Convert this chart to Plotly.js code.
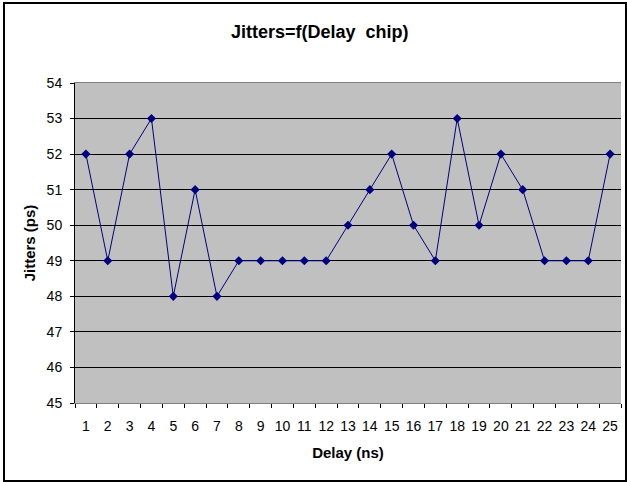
<!DOCTYPE html>
<html><head><meta charset="utf-8">
<script src="https://cdn.plot.ly/plotly-3.0.1.min.js"></script>
<style>html,body{margin:0;padding:0;background:#fff}
#frame{position:absolute;left:3px;top:2px;width:620px;height:476px;border:2px solid #000;pointer-events:none;z-index:10}
</style></head><body>
<div id="chart" style="width:627px;height:482px"></div>
<div id="frame"></div>
<script>
const delays = [1,2,3,4,5,6,7,8,9,10,11,12,13,14,15,16,17,18,19,20,21,22,23,24,25];
const jitters = [52,49,52,53,48,51,48,49,49,49,49,49,50,51,52,50,49,53,50,52,51,49,49,49,52];
const titleText = 'Jitters=f(Delay  chip)';
const xTitle = 'Delay (ns)';
const yTitle = 'Jitters (ps)';
const font = 'Arial, "Liberation Sans", sans-serif';
Plotly.newPlot('chart', [{
  x: delays, y: jitters, type: 'scatter', mode: 'lines+markers',
  line: {color: '#000080', width: 1},
  marker: {symbol: 'diamond', size: 7, color: '#000080'}
}], {
  width: 627, height: 482,
  margin: {l: 75, r: 6, t: 83, b: 79},
  paper_bgcolor: '#fff', plot_bgcolor: '#c0c0c0',
  showlegend: false,
  title: {text: '<b>' + titleText + '</b>', x: 0.51, xanchor: 'center', y: 0.935, yanchor: 'middle',
          font: {family: font, size: 18, color: '#000'}},
  xaxis: {
    range: [0.5, 25.5], tickvals: delays, ticktext: delays.map(String), ticks: '',
    showgrid: false, zeroline: false, showline: true, linecolor: '#808080', linewidth: 1, mirror: true,
    tickfont: {family: font, size: 14, color: '#000'}, ticklabelstandoff: 10,
    minor: {tick0: 0.5, dtick: 1, ticks: 'outside', ticklen: 4, tickcolor: '#000', showgrid: false},
    title: {text: '<b>' + xTitle + '</b>', font: {family: font, size: 15, color: '#000'}, standoff: 14}
  },
  yaxis: {
    range: [45, 54], dtick: 1, ticks: 'outside', ticklen: 4, tickcolor: '#000',
    showgrid: true, gridcolor: '#000', gridwidth: 1, zeroline: false,
    showline: true, linecolor: '#000', linewidth: 1,
    tickfont: {family: font, size: 14, color: '#000'}, ticklabelstandoff: 5,
    title: {text: '<b>' + yTitle + '</b>', font: {family: font, size: 15, color: '#000'}, standoff: 7}
  }
}, {staticPlot: true});
</script></body></html>
